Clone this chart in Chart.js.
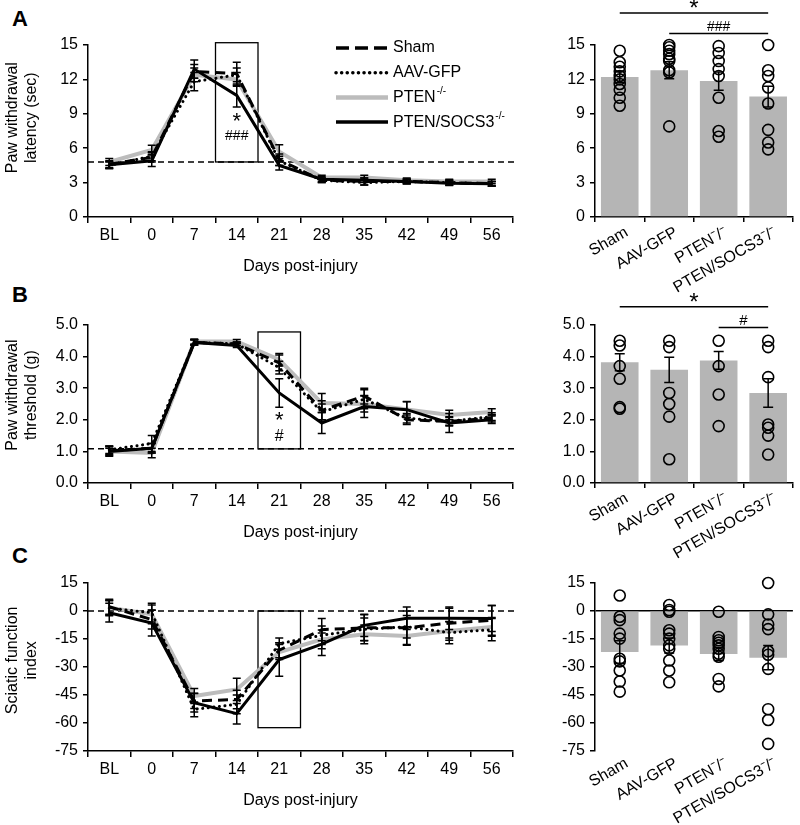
<!DOCTYPE html>
<html>
<head>
<meta charset="utf-8">
<script src="https://cdn.jsdelivr.net/npm/chart.js@4.4.1/dist/chart.umd.min.js"></script>
<style>
  body { margin: 0; background: #fff; width: 800px; height: 825px; position: relative; overflow: hidden; font-family: "Liberation Sans", Arial, sans-serif; }
  canvas { position: absolute; }
  .lab { position: absolute; font-weight: bold; font-size: 22px; line-height: 22px; }
</style>
</head>
<body>
<div class="lab" style="left:12px;top:8px">A</div>
<div class="lab" style="left:12px;top:284px">B</div>
<div class="lab" style="left:12px;top:545px">C</div>

<canvas id="lineA" width="524" height="280" style="left:0;top:0"></canvas>
<canvas id="lineB" width="524" height="266" style="left:0;top:280px"></canvas>
<canvas id="lineC" width="524" height="269" style="left:0;top:545px"></canvas>
<canvas id="barA" width="272" height="300" style="left:528px;top:0"></canvas>
<canvas id="barB" width="272" height="286" style="left:528px;top:280px"></canvas>
<canvas id="barC" width="272" height="280" style="left:528px;top:545px"></canvas>

<script>
// time points and groups
const days = ['BL', '0', '7', '14', '21', '28', '35', '42', '49', '56'];
const groups = ['Sham', 'AAV-GFP', 'PTEN⁻/⁻', 'PTEN/SOCS3⁻/⁻'];

// A: paw withdrawal latency (sec), mean and SEM
const latSham = [4.6, 5.2, 12.7, 12.5, 5.0, 3.2, 3.1, 3.1, 3.0, 2.9];
const latGfp  = [4.5, 5.3, 11.8, 12.4, 4.9, 3.2, 3.0, 3.1, 3.0, 2.9];
const latPten = [4.8, 5.85, 12.4, 12.0, 5.7, 3.45, 3.45, 3.2, 3.1, 3.1];
const latSocs = [4.55, 4.9, 12.9, 10.6, 4.5, 3.3, 3.2, 3.1, 2.95, 2.9];
const latShamErr = [0.3, 0.4, 0.6, 1.0, 0.5, 0.2, 0.3, 0.2, 0.2, 0.2];
const latGfpErr  = [0.3, 0.4, 0.8, 0.6, 0.4, 0.2, 0.2, 0.2, 0.2, 0.2];
const latPtenErr = [0.3, 0.4, 0.6, 0.6, 0.6, 0.2, 0.2, 0.2, 0.2, 0.2];
const latSocsErr = [0.3, 0.5, 0.8, 1.0, 0.4, 0.2, 0.2, 0.2, 0.2, 0.2];

// B: paw withdrawal threshold (g)
const thrSham = [1.02, 1.1, 4.45, 4.4, 3.8, 2.3, 2.75, 2.0, 1.95, 2.05];
const thrGfp  = [1.05, 1.25, 4.45, 4.4, 3.65, 2.25, 2.65, 2.05, 1.95, 2.1];
const thrPten = [1.0, 0.95, 4.48, 4.48, 3.9, 2.53, 2.5, 2.33, 2.15, 2.25];
const thrSocs = [1.0, 1.1, 4.45, 4.35, 2.85, 1.9, 2.42, 2.32, 1.9, 2.0];
const thrShamErr = [0.15, 0.15, 0.08, 0.06, 0.25, 0.3, 0.25, 0.15, 0.12, 0.12];
const thrGfpErr  = [0.12, 0.25, 0.08, 0.06, 0.2, 0.25, 0.3, 0.15, 0.15, 0.12];
const thrPtenErr = [0.1, 0.15, 0.08, 0.06, 0.2, 0.3, 0.25, 0.25, 0.15, 0.1];
const thrSocsErr = [0.15, 0.15, 0.08, 0.06, 0.45, 0.33, 0.35, 0.25, 0.3, 0.12];

// C: sciatic function index
const sfiSham = [2.3, -4.6, -48.2, -47.4, -21, -10, -9, -9, -6.5, -5];
const sfiGfp  = [1.5, -0.9, -52.7, -50, -17.5, -13, -9.8, -8.4, -11.6, -10];
const sfiPten = [1.8, -1.8, -45.5, -42, -22, -15.2, -12.5, -13.4, -10.7, -8.5];
const sfiSocs = [-0.9, -6.4, -49.1, -55, -26, -17.8, -7.7, -3.9, -3.9, -4];
const sfiShamErr = [4, 5, 4, 5, 4, 6, 7, 9, 8, 8];
const sfiGfpErr  = [4, 5, 4, 5, 3, 5, 6, 6, 6, 6];
const sfiPtenErr = [4, 5, 4, 6, 4, 5, 5, 5, 5, 5];
const sfiSocsErr = [5, 7, 5, 5.5, 9, 6, 6, 6, 6, 7];

// bar panels: group means, SEM and individual animals
const latBar = [12.2, 12.8, 11.85, 10.5];
const latBarErr = [0.5, 0.75, 0.8, 0.9];
const latDotsSham = [14.5, 13.5, 13.1, 12.7, 12.3, 12.0, 11.6, 11.1, 10.4, 9.7];
const latDotsGfp  = [15.0, 14.8, 14.5, 14.2, 13.8, 13.6, 12.8, 12.6, 7.9];
const latDotsPten = [14.9, 14.3, 13.6, 12.9, 12.3, 10.4, 7.5, 7.0];
const latDotsSocs = [15.0, 12.8, 12.3, 11.3, 9.9, 7.6, 6.5, 5.9];

const thrBar = [3.82, 3.58, 3.88, 2.85];
const thrBarErr = [0.27, 0.4, 0.28, 0.45];
const thrDotsSham = [4.5, 4.35, 3.7, 3.3, 2.4, 2.35];
const thrDotsGfp  = [4.5, 4.3, 2.85, 2.5, 2.1, 0.75];
const thrDotsPten = [4.5, 3.7, 2.8, 1.8];
const thrDotsSocs = [4.5, 4.3, 3.35, 1.85, 1.75, 1.5, 0.9];

const sfiBar = [-22, -18.5, -23, -25];
const sfiBarErr = [6, 4, 3.5, 6.5];
const sfiDotsSham = [8.3, -3.1, -4.9, -12.1, -14.8, -25.6, -27.0, -31.9, -37.8, -43.2];
const sfiDotsGfp  = [3.2, 0.5, -0.4, -10.3, -12.1, -14.8, -18.4, -20.2, -26.5, -31.9, -38.2];
const sfiDotsPten = [-0.4, -13.9, -15.7, -17, -18.4, -20.2, -22.9, -24.5, -36.4, -40.4];
const sfiDotsSocs = [15, -1.8, -7.2, -9.7, -21.6, -23.4, -31.0, -52.6, -58.4, -71.2];

const FONT = '"Liberation Sans", Arial, sans-serif';
Chart.defaults.font.family = FONT;
Chart.defaults.color = '#000';

const seriesStyles = [
  { name: 'Sham', color: '#000', width: 3, dash: [10, 6], cap: 'butt', order: 2 },
  { name: 'AAV-GFP', color: '#000', width: 3, dash: [0.1, 5.5], cap: 'round', order: 1 },
  { name: 'PTEN', sup: '-/-', color: '#bcbcbc', width: 4, dash: [], cap: 'butt', order: 3 },
  { name: 'PTEN/SOCS3', sup: '-/-', color: '#000', width: 3, dash: [], cap: 'butt', order: 0 }
];

// mean +/- SEM whiskers
const errorBars = {
  id: 'errorBars',
  afterDatasetsDraw(chart) {
    const ctx = chart.ctx, ys = chart.scales.y;
    chart.data.datasets.forEach((ds, di) => {
      if (!ds.err) return;
      const meta = chart.getDatasetMeta(di);
      const c = ds.capHalf || 4;
      ctx.save();
      ctx.strokeStyle = '#000';
      ctx.lineWidth = 1.5;
      meta.data.forEach((el, i) => {
        const v = ds.data[i], e = ds.err[i];
        const x = el.x, y1 = ys.getPixelForValue(v + e), y2 = ys.getPixelForValue(v - e);
        ctx.beginPath();
        ctx.moveTo(x, y1); ctx.lineTo(x, y2);
        ctx.moveTo(x - c, y1); ctx.lineTo(x + c, y1);
        ctx.moveTo(x - c, y2); ctx.lineTo(x + c, y2);
        ctx.stroke();
      });
      ctx.restore();
    });
  }
};

// boxes, baselines, stars, significance bars and the legend
const marks = {
  id: 'marks',
  beforeDatasetsDraw(chart, args, o) {
    const ctx = chart.ctx, xs = chart.scales.x, ys = chart.scales.y, a = chart.chartArea;
    ctx.save();
    ctx.strokeStyle = '#000';
    if (o.baseline != null) {
      const y = ys.getPixelForValue(o.baseline);
      ctx.lineWidth = 1.5;
      ctx.setLineDash([6, 4]);
      ctx.beginPath(); ctx.moveTo(a.left, y); ctx.lineTo(a.right + 3, y); ctx.stroke();
      ctx.setLineDash([]);
    }
    if (o.box) {
      const half = (xs.getPixelForValue(1) - xs.getPixelForValue(0)) / 2;
      const cx = xs.getPixelForValue(o.box.index);
      const top = ys.getPixelForValue(o.box.hi), bot = ys.getPixelForValue(o.box.lo);
      ctx.lineWidth = 1.3;
      ctx.strokeRect(cx - half, top, half * 2, bot - top);
    }
    ctx.restore();
  },
  afterDraw(chart, args, o) {
    const ctx = chart.ctx, xs = chart.scales.x, ys = chart.scales.y;
    ctx.save();
    ctx.fillStyle = '#000';
    ctx.strokeStyle = '#000';
    ctx.textAlign = 'center';
    ctx.textBaseline = 'alphabetic';
    (o.texts || []).forEach(t => {
      ctx.font = (t.bold ? 'bold ' : '') + t.size + 'px ' + FONT;
      ctx.fillText(t.text, xs.getPixelForValue(t.index), ys.getPixelForValue(t.value));
    });
    (o.sig || []).forEach(s => {
      const x1 = xs.getPixelForValue(s.from), x2 = xs.getPixelForValue(s.to), y = ys.getPixelForValue(s.value);
      ctx.lineWidth = 1.5;
      ctx.beginPath(); ctx.moveTo(x1, y); ctx.lineTo(x2, y); ctx.stroke();
      ctx.font = (s.bold ? 'bold ' : '') + s.size + 'px ' + FONT;
      ctx.fillText(s.text, (x1 + x2) / 2, y + s.dy);
    });
    if (o.legend) {
      const L = o.legend;
      seriesStyles.forEach((s, i) => {
        const y = L.y + i * L.gap;
        ctx.beginPath();
        ctx.strokeStyle = s.color;
        ctx.lineWidth = s.width + 0.5;
        ctx.lineCap = s.cap;
        ctx.setLineDash(s.dash.length ? s.dash.map((d, k) => k % 2 ? d : d + (s.cap === 'round' ? 0 : 3)) : []);
        ctx.moveTo(L.x, y); ctx.lineTo(L.x + L.len, y); ctx.stroke();
        ctx.setLineDash([]);
        ctx.textAlign = 'left';
        ctx.textBaseline = 'middle';
        ctx.font = '16px ' + FONT;
        const tx = L.x + L.len + 5;
        ctx.fillText(s.name, tx, y);
        if (s.sup) {
          const w = ctx.measureText(s.name).width;
          ctx.font = '10px ' + FONT;
          ctx.fillText(s.sup, tx + w + 1, y - 6);
        }
      });
    }
    ctx.restore();
  }
};

const fixW = w => s => { s.width = w; };
const fixH = h => s => { s.height = h; };

function yAxis(min, max, step, title, dec, width) {
  return {
    min: min, max: max,
    ticks: { stepSize: step, font: { size: 16 }, padding: 5, color: '#000',
             callback: v => dec ? v.toFixed(1) : String(v) },
    grid: { display: true, drawOnChartArea: false, tickLength: 5, color: '#000', lineWidth: 1.5 },
    border: { color: '#000', width: 1.5 },
    title: title ? { display: true, text: title, font: { size: 16 }, padding: { top: 3, bottom: 0 }, color: '#000' } : { display: false },
    afterFit: fixW(width)
  };
}

function lineChart(id, vals, errs, y, pad, o) {
  return new Chart(document.getElementById(id), {
    type: 'line',
    data: {
      labels: days,
      datasets: seriesStyles.map((s, i) => ({
        label: s.name + (s.sup || ''),
        data: vals[i], err: errs[i],
        borderColor: s.color, borderWidth: s.width, borderDash: s.dash, borderCapStyle: s.cap,
        pointRadius: 0, tension: 0, fill: false, order: s.order
      }))
    },
    options: {
      responsive: false, animation: false,
      layout: { padding: { top: pad, right: 11, left: 0, bottom: 0 } },
      plugins: { legend: { display: false }, tooltip: { enabled: false }, marks: o },
      scales: {
        x: {
          offset: true,
          grid: { offset: true, drawOnChartArea: false, tickLength: 6, color: '#000', lineWidth: 1.5 },
          border: { color: '#000', width: 1.5 },
          ticks: { font: { size: 16 }, padding: 3, maxRotation: 0, autoSkip: false, color: '#000' },
          title: { display: true, text: 'Days post-injury', font: { size: 16 }, padding: { top: 0, bottom: 4 }, color: '#000' },
          afterFit: fixH(63)
        },
        y: y
      }
    },
    plugins: [errorBars, marks]
  });
}

function barChart(id, means, errs, dots, y, pad, xh, o, zeroLine) {
  const dotSets = dots.map((vals, gi) => ({
    type: 'line',
    data: vals.map(v => ({ x: groups[gi], y: v })),
    showLine: false, clip: false, pointRadius: 5.5, pointBorderWidth: 1.6,
    pointBorderColor: '#000', pointBackgroundColor: 'rgba(0,0,0,0)', order: 0
  }));
  if (zeroLine) {
    y.grid = { display: true, drawOnChartArea: true, tickLength: 5, lineWidth: 1.5, tickColor: '#000',
               color: c => (c.tick && c.tick.value === 0) ? '#000' : 'rgba(0,0,0,0)' };
  }
  return new Chart(document.getElementById(id), {
    type: 'bar',
    data: {
      labels: groups,
      datasets: [{ type: 'bar', data: means, err: errs, capHalf: 5, backgroundColor: '#b5b5b5',
                   barPercentage: 0.76, categoryPercentage: 1, order: 1 }].concat(dotSets)
    },
    options: {
      responsive: false, animation: false,
      layout: { padding: { top: pad, right: 3, left: 0, bottom: 0 } },
      plugins: { legend: { display: false }, tooltip: { enabled: false }, marks: o },
      scales: {
        x: {
          offset: true,
          grid: zeroLine ? { display: false, drawTicks: false } : { offset: true, drawOnChartArea: false, tickLength: 5, color: '#000', lineWidth: 1.5 },
          border: zeroLine ? { display: false } : { color: '#000', width: 1.5 },
          ticks: { font: { size: 16 }, padding: zeroLine ? 3 : 1, labelOffset: 7, minRotation: 30, maxRotation: 30, autoSkip: false, color: '#000' },
          afterFit: fixH(xh)
        },
        y: y
      }
    },
    plugins: [errorBars, marks]
  });
}

const sp = n => '\u00a0'.repeat(n);

lineChart('lineA', [latSham, latGfp, latPten, latSocs], [latShamErr, latGfpErr, latPtenErr, latSocsErr],
  yAxis(0, 15, 3, [sp(6) + 'Paw withdrawal', sp(6) + 'latency (sec)'], false, 88), 45,
  { baseline: 4.8, box: { index: 3, lo: 4.8, hi: 15.2 },
    texts: [{ text: '*', size: 22, bold: false, index: 3, value: 7.8 }, { text: '###', size: 14, index: 3, value: 6.7 }],
    legend: { x: 336, y: 48, gap: 24.7, len: 52 } });

lineChart('lineB', [thrSham, thrGfp, thrPten, thrSocs], [thrShamErr, thrGfpErr, thrPtenErr, thrSocsErr],
  yAxis(0, 5, 1, [sp(4) + 'Paw withdrawal', sp(4) + 'threshold (g)'], true, 88), 45,
  { baseline: 1.08, box: { index: 4, lo: 1.08, hi: 4.78 },
    texts: [{ text: '*', size: 22, index: 4, value: 1.77 }, { text: '#', size: 16, index: 4, value: 1.33 }] });

lineChart('lineC', [sfiSham, sfiGfp, sfiPten, sfiSocs], [sfiShamErr, sfiGfpErr, sfiPtenErr, sfiSocsErr],
  yAxis(-75, 15, 15, [sp(3) + 'Sciatic function', sp(3) + 'index'], false, 88), 38,
  { baseline: 0, box: { index: 4, lo: -62.5, hi: 0 } });

barChart('barA', latBar, latBarErr, [latDotsSham, latDotsGfp, latDotsPten, latDotsSocs],
  yAxis(0, 15, 3, null, false, 67), 45, 83,
  { sig: [{ from: 0, to: 3, value: 17.8, text: '*', size: 24, dy: 3 },
          { from: 1, to: 3, value: 16.0, text: '###', size: 14, dy: -3 }] });

barChart('barB', thrBar, thrBarErr, [thrDotsSham, thrDotsGfp, thrDotsPten, thrDotsSocs],
  yAxis(0, 5, 1, null, true, 67), 45, 83,
  { sig: [{ from: 0, to: 3, value: 5.58, text: '*', size: 24, dy: 3 },
          { from: 2, to: 3, value: 4.92, text: '#', size: 15, dy: -3 }] });

barChart('barC', sfiBar, sfiBarErr, [sfiDotsSham, sfiDotsGfp, sfiDotsPten, sfiDotsSocs],
  yAxis(-75, 15, 15, null, false, 67), 38, 74, {}, true);
</script>
</body>
</html>
